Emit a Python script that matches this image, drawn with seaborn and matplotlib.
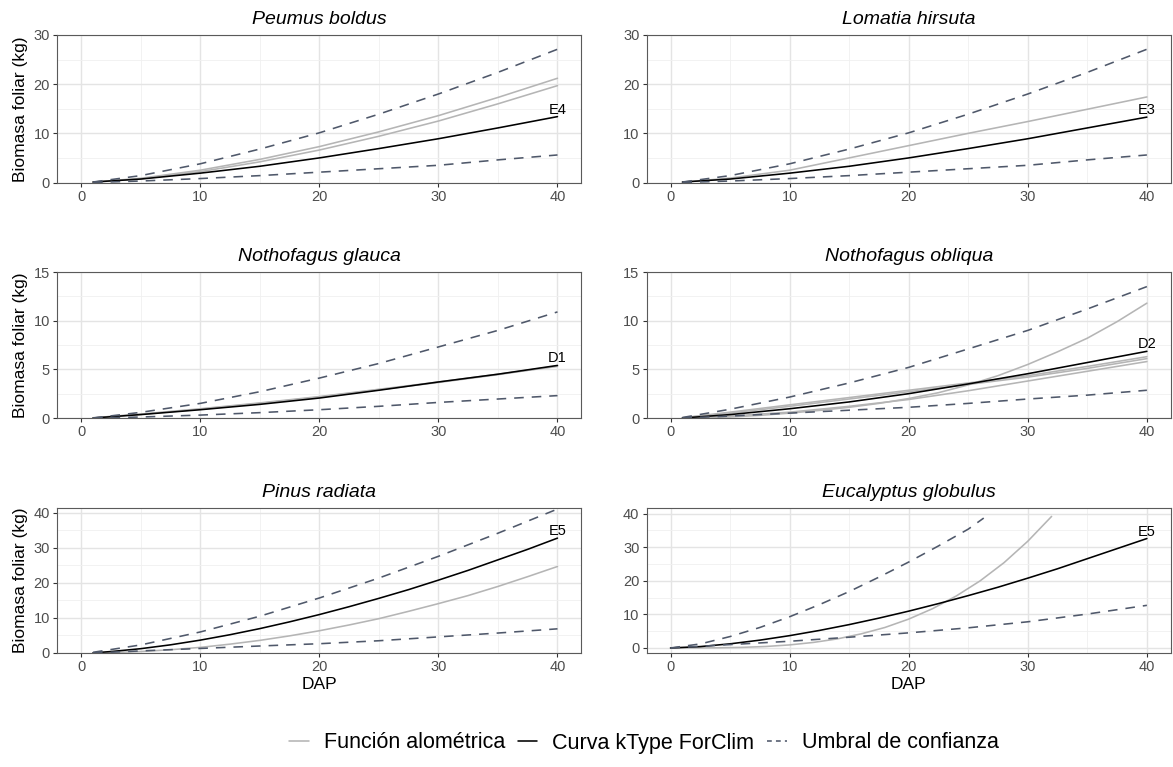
import matplotlib
matplotlib.use("Agg")
import matplotlib.pyplot as plt
from matplotlib.lines import Line2D
from matplotlib.ticker import MultipleLocator
import pandas as pd
import seaborn as sns

# ---- diameter grids (cm) ----
DAP = [1, 5, 10, 15, 20, 25, 30, 35, 40]
DAP_FINE = [1, 2.5, 5, 7.5, 10, 12.5, 15, 17.5, 20, 22.5, 25, 27.5, 30,
            32.5, 35, 37.5, 40]
DAP_EG = [0, 5, 10, 15, 20, 25, 30, 35, 40]
DAP_EG_FINE = [0, 2.5, 5, 7.5, 10, 12.5, 15, 17.5, 20, 22.5, 25, 27.5, 30,
               32.5, 35, 37.5, 40]
DAP_EG_UPPER = [0, 2.5, 5, 7.5, 10, 12.5, 15, 17.5, 20, 22.5, 25, 26.3]
DAP_EG_ALO = [0, 2, 4, 6, 8, 10, 12, 14, 16, 18, 20, 22, 24, 26, 28, 30, 32]

# ---- Peumus boldus (kType E4) ----
pb_alo_a = [0.07, 0.86, 2.5, 4.7, 7.3, 10.3, 13.6, 17.3, 21.2]
pb_alo_b = [0.05, 0.74, 2.2, 4.2, 6.6, 9.4, 12.5, 16.0, 19.7]
e4_ktype = [0.1, 0.7, 1.9, 3.3, 5.0, 6.9, 8.9, 11.1, 13.4]
e4_upper = [0.1, 1.4, 3.8, 6.8, 10.1, 13.9, 18.0, 22.4, 27.1]
e4_lower = [0.0, 0.3, 0.8, 1.4, 2.1, 2.8, 3.5, 4.6, 5.6]

# ---- Lomatia hirsuta (kType E3) ----
lh_alo = [0.05, 0.9, 2.5, 5.0, 7.5, 10.0, 12.4, 14.9, 17.4]
e3_ktype = [0.1, 0.7, 1.9, 3.3, 5.0, 6.9, 8.9, 11.1, 13.3]
e3_upper = [0.1, 1.4, 3.8, 6.8, 10.1, 13.9, 18.0, 22.4, 27.1]
e3_lower = [0.0, 0.3, 0.8, 1.4, 2.1, 2.8, 3.5, 4.6, 5.6]

# ---- Nothofagus glauca (kType D1) ----
ng_alo_a = [0.02, 0.4, 0.95, 1.55, 2.2, 2.95, 3.7, 4.5, 5.3]
ng_alo_b = [0.02, 0.38, 0.9, 1.5, 2.15, 2.9, 3.65, 4.45, 5.35]
d1_ktype = [0.0, 0.35, 0.85, 1.4, 2.05, 2.85, 3.7, 4.5, 5.4]
d1_upper = [0.0, 0.58, 1.5, 2.7, 4.1, 5.6, 7.3, 9.0, 10.9]
d1_lower = [0.0, 0.1, 0.3, 0.55, 0.85, 1.2, 1.6, 1.95, 2.3]

# ---- Nothofagus obliqua (kType D2) ----
no_alo_a = [0.02, 0.6, 1.35, 2.1, 2.85, 3.6, 4.35, 5.3, 6.3]
no_alo_b = [0.02, 0.5, 1.2, 1.95, 2.7, 3.45, 4.2, 5.1, 6.1]
no_alo_c = [0.0, 0.2, 0.6, 1.2, 1.9, 2.8, 3.8, 4.8, 5.8]
no_alo_d = [0.0, 0.03, 0.1, 0.27, 0.5, 0.78, 1.1, 1.5, 2.0, 2.6, 3.4, 4.35,
            5.5, 6.8, 8.2, 9.9, 11.8]
d2_ktype = [0.0, 0.35, 0.95, 1.65, 2.5, 3.5, 4.55, 5.7, 6.85]
d2_upper = [0.05, 0.9, 2.15, 3.6, 5.2, 7.1, 9.0, 11.2, 13.5]
d2_lower = [0.0, 0.2, 0.5, 0.8, 1.1, 1.5, 1.95, 2.35, 2.85]

# ---- Pinus radiata (kType E5) ----
pr_alo = [0.02, 0.11, 0.42, 0.93, 1.6, 2.53, 3.6, 4.89, 6.35, 8.0, 9.8,
          11.9, 14.1, 16.4, 19.0, 21.8, 24.7]
e5_ktype = [0.05, 0.41, 1.23, 2.33, 3.67, 5.22, 6.96, 8.89, 10.97, 13.22,
            15.6, 18.1, 20.8, 23.6, 26.6, 29.6, 32.8]
e5_upper = [0.2, 2.3, 6.0, 10.5, 15.7, 21.4, 27.6, 34.2, 41.1]
e5_lower = [0.0, 0.6, 1.3, 2.0, 2.65, 3.5, 4.6, 5.7, 6.9]

# ---- Eucalyptus globulus (kType E5) ----
eg_alo = [0.0, 0.01, 0.05, 0.18, 0.44, 0.91, 1.65, 2.7, 4.2, 6.1, 8.6, 11.7,
          15.5, 20.0, 25.4, 31.8, 39.2]
eg_ktype = [0.0, 0.41, 1.23, 2.33, 3.67, 5.22, 6.96, 8.89, 10.97, 13.22,
            15.6, 18.1, 20.8, 23.6, 26.6, 29.6, 32.6]
eg_upper = [0.0, 1.2, 3.4, 6.1, 9.3, 12.9, 16.8, 21.1, 25.6, 30.4, 35.4, 38.7]
eg_lower = [0.0, 1.0, 2.0, 3.2, 4.5, 6.0, 7.8, 10.1, 12.7]

SPECIES = ["Peumus boldus", "Lomatia hirsuta", "Nothofagus glauca",
           "Nothofagus obliqua", "Pinus radiata", "Eucalyptus globulus"]
KTYPES = ["E4", "E3", "D1", "D2", "E5", "E5"]
LEGEND_LABELS = ["Función alométrica", "Curva kType ForClim", "Umbral de confianza"]

panels = [
    [("alo", DAP, pb_alo_a), ("alo", DAP, pb_alo_b), ("ktype", DAP, e4_ktype),
     ("umbral", DAP, e4_upper), ("umbral", DAP, e4_lower)],
    [("alo", DAP, lh_alo), ("ktype", DAP, e3_ktype),
     ("umbral", DAP, e3_upper), ("umbral", DAP, e3_lower)],
    [("alo", DAP, ng_alo_a), ("alo", DAP, ng_alo_b), ("ktype", DAP, d1_ktype),
     ("umbral", DAP, d1_upper), ("umbral", DAP, d1_lower)],
    [("alo", DAP, no_alo_a), ("alo", DAP, no_alo_b), ("alo", DAP, no_alo_c),
     ("alo", DAP_FINE, no_alo_d), ("ktype", DAP, d2_ktype),
     ("umbral", DAP, d2_upper), ("umbral", DAP, d2_lower)],
    [("alo", DAP_FINE, pr_alo), ("ktype", DAP_FINE, e5_ktype),
     ("umbral", DAP, e5_upper), ("umbral", DAP, e5_lower)],
    [("alo", DAP_EG_ALO, eg_alo), ("ktype", DAP_EG_FINE, eg_ktype),
     ("umbral", DAP_EG_UPPER, eg_upper), ("umbral", DAP_EG, eg_lower)],
]

Y_LIMITS = [(0, 30), (0, 30), (0, 15), (0, 15), (0, 41.4), (-1.5, 41.7)]
Y_MAJOR = [10, 10, 5, 5, 10, 10]

sns.set_theme(style="white")
plt.rcParams["font.family"] = ["Liberation Sans", "DejaVu Sans"]
plt.rcParams["text.color"] = "black"
plt.rcParams["axes.labelcolor"] = "black"

PALETTE = {"alo": "#b5b5b5", "ktype": "#000000", "umbral": "#4f586a"}
DASHES = {"alo": "", "ktype": "", "umbral": (6, 5)}
HUE_ORDER = ["alo", "ktype", "umbral"]

W, H = 1173, 767
fig = plt.figure(figsize=(W / 100, H / 100), dpi=100)

col_left = [57.3, 646.7]
panel_w = 524
rows = [(35, 182.5), (272, 418), (508, 653)]

for i, (name, curves) in enumerate(zip(SPECIES, panels)):
    r, c = divmod(i, 2)
    top, bottom = rows[r]
    ax = fig.add_axes([col_left[c] / W, 1 - bottom / H, panel_w / W, (bottom - top) / H])

    frames = []
    for cid, (kind, xs, ys) in enumerate(curves):
        frames.append(pd.DataFrame({"DAP": xs, "biomasa": ys, "curva": cid, "tipo": kind}))
    df = pd.concat(frames, ignore_index=True)

    sns.lineplot(data=df, x="DAP", y="biomasa", hue="tipo", style="tipo",
                 units="curva", estimator=None, hue_order=HUE_ORDER,
                 style_order=HUE_ORDER, palette=PALETTE, dashes=DASHES,
                 linewidth=1.15, legend=False, sort=False, ax=ax)

    # kType label at the end of the ForClim curve
    kt_x, kt_y = [(xs, ys) for kind, xs, ys in curves if kind == "ktype"][0]
    ax.text(kt_x[-1], kt_y[-1], KTYPES[i], ha="center", va="bottom",
            fontsize=10.5, color="black")

    ax.set_xlim(-2, 42)
    ax.set_ylim(*Y_LIMITS[i])
    ax.xaxis.set_major_locator(MultipleLocator(10))
    ax.xaxis.set_minor_locator(MultipleLocator(5))
    ax.yaxis.set_major_locator(MultipleLocator(Y_MAJOR[i]))
    ax.yaxis.set_minor_locator(MultipleLocator(Y_MAJOR[i] / 2))
    ax.set_axisbelow(True)
    ax.grid(which="major", color="#e4e4e4", linewidth=1.0)
    ax.grid(which="minor", color="#f0f0f0", linewidth=0.6)
    ax.tick_params(which="major", length=3.2, width=0.8, color="#333333",
                   labelsize=10.5, labelcolor="#4d4d4d", pad=2, direction="out",
                   bottom=True, left=True)
    ax.tick_params(which="minor", length=0)
    for sp in ax.spines.values():
        sp.set_visible(True)
        sp.set_color("#5a5a5a")
        sp.set_linewidth(0.8)

    ax.set_title(name, fontsize=14, style="italic", pad=8, color="black")
    ax.set_ylabel("Biomasa foliar (kg)" if c == 0 else "", fontsize=12.5, labelpad=4)
    ax.set_xlabel("DAP" if r == 2 else "", fontsize=12.5, labelpad=2)

handles = [
    Line2D([], [], color=PALETTE["alo"], lw=1.15),
    Line2D([], [], color=PALETTE["ktype"], lw=1.15),
    Line2D([], [], color=PALETTE["umbral"], lw=1.15, dashes=(3, 2.6)),
]
fig.legend(handles, LEGEND_LABELS, loc="center", bbox_to_anchor=(644 / W, 1 - 743 / H),
           ncol=3, frameon=False, fontsize=15.5, handlelength=0.9,
           handletextpad=0.7, columnspacing=0.6)

fig.savefig("out.png", dpi=100)
